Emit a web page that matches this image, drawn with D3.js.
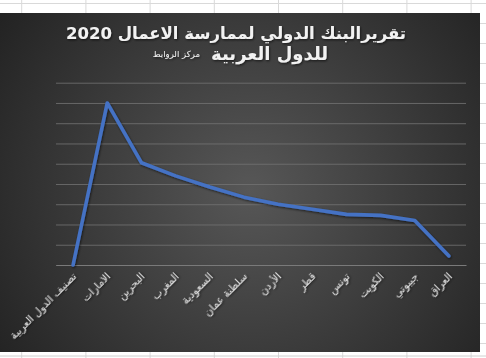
<!DOCTYPE html>
<html>
<head>
<meta charset="utf-8">
<script src="https://cdn.jsdelivr.net/npm/d3@7"></script>
<style>
  body { margin:0; background:#fff; }
  svg { display:block; }
</style>
</head>
<body>
<svg></svg>
<script>

// categories as in the sheet (first one is the header cell)
var countries = ["تصنيف الدول العربية","الامارات","البحرين","المغرب","السعودية","سلطنة عمان","الأردن","قطر","تونس","الكويت","جيبوتي","العراق"];
var values = [0,80,50.5,44,38.5,33.5,30,27.5,25,24.5,22,4.5];
var yTicks = [0,10,20,30,40,50,60,70,80,90];

var titleLine1 = "تقريرالبنك الدولي لممارسة الاعمال 2020";
var titleLine2 = "للدول العربية";
var titleSource = "مركز الروابط";

var screen = {
  width:486,
  height:358
};

var chartBox = {x:0, y:13, width:480, height:339};

var margins = {
  top:82.7,
  left:56
};

var plotWidth = 410;
var plotHeight = 265 - margins.top;

var svg = d3.select("svg").attr("width",screen.width).attr("height",screen.height);

// spreadsheet cells behind the chart
var sheet = svg.append("g").attr("id","sheet");
sheet.selectAll("line.v")
  .data(d3.range(8))
  .enter()
  .append("line")
  .attr("x1",function(d){return 21.7 + d*64.2;})
  .attr("x2",function(d){return 21.7 + d*64.2;})
  .attr("y1",0)
  .attr("y2",screen.height)
  .attr("stroke","#d9d9d9");
sheet.selectAll("line.h")
  .data(d3.range(18))
  .enter()
  .append("line")
  .attr("y1",function(d){return 3.5 + d*20;})
  .attr("y2",function(d){return 3.5 + d*20;})
  .attr("x1",0)
  .attr("x2",screen.width)
  .attr("stroke","#d9d9d9");
sheet.append("line")
  .attr("x1",0).attr("x2",screen.width)
  .attr("y1",356).attr("y2",356)
  .attr("stroke","#d0d0d0");

var defs = svg.append("defs");
var grad = defs.append("radialGradient")
  .attr("id","bg")
  .attr("gradientUnits","userSpaceOnUse")
  .attr("cx",250).attr("cy",190).attr("r",310);
grad.append("stop").attr("offset","0%").attr("stop-color","#575757");
grad.append("stop").attr("offset","100%").attr("stop-color","#222222");

var shadow = defs.append("filter").attr("id","shadow")
  .attr("x","-10%").attr("y","-10%").attr("width","120%").attr("height","130%");
shadow.append("feDropShadow")
  .attr("dx",0.8).attr("dy",1.2).attr("stdDeviation",0.8)
  .attr("flood-color","#000").attr("flood-opacity",0.6);

svg.append("rect")
  .attr("x",chartBox.x).attr("y",chartBox.y)
  .attr("width",chartBox.width).attr("height",chartBox.height)
  .attr("fill","url(#bg)");

// scales
var xScale = d3.scaleBand()
  .domain(countries)
  .range([0,plotWidth]);

var yScale = d3.scaleLinear()
  .domain([0,90])
  .range([plotHeight,0]);

var plot = svg.append("g").attr("id","plot")
  .attr("transform","translate("+margins.left+","+margins.top+")");

// gridlines
var yAxis = d3.axisLeft(yScale)
  .tickValues(yTicks)
  .tickSize(-plotWidth)
  .tickFormat("");

plot.append("g")
  .attr("id","yAxis")
  .call(yAxis)
  .call(function(g){ g.select(".domain").remove(); })
  .selectAll("line")
  .attr("stroke","#737373")
  .attr("stroke-width",0.8);

// category axis
var xAxis = d3.axisBottom(xScale).tickSize(0).tickPadding(0);

var xg = plot.append("g")
  .attr("id","xAxis")
  .attr("transform","translate(0,"+plotHeight+")")
  .call(xAxis);

xg.select(".domain").attr("stroke","#7a7a7a").attr("stroke-width",1);

xg.selectAll("text")
  .attr("fill","#e0e0e0")
  .attr("font-family","DejaVu Sans, sans-serif")
  .attr("font-size","10.5px")
  .attr("direction","rtl")
  .attr("text-anchor","start")
  .attr("dy",0)
  .attr("filter","url(#shadow)")
  .attr("transform","translate(4,12) rotate(-45)");

// the line
var line = d3.line()
  .x(function(d,i){ return xScale(countries[i]) + xScale.bandwidth()/2; })
  .y(function(d){ return yScale(d); });

plot.append("path")
  .datum(values)
  .attr("d",line)
  .attr("fill","none")
  .attr("stroke","#4472c4")
  .attr("stroke-width",3.6)
  .attr("stroke-linejoin","round")
  .attr("stroke-linecap","round")
  .attr("filter","url(#shadow)");

// title
var title = svg.append("g").attr("id","title")
  .attr("font-family","DejaVu Sans, sans-serif")
  .attr("fill","#f2f2f2")
  .attr("font-weight","bold")
  .attr("filter","url(#shadow)");

title.append("text")
  .attr("x",236).attr("y",39)
  .attr("text-anchor","middle")
  .attr("direction","rtl")
  .attr("font-size","16.5px")
  .text(titleLine1);

title.append("text")
  .attr("x",328).attr("y",60)
  .attr("text-anchor","start")
  .attr("direction","rtl")
  .attr("font-size","18px")
  .text(titleLine2);

title.append("text")
  .attr("x",200).attr("y",57)
  .attr("text-anchor","start")
  .attr("direction","rtl")
  .attr("font-size","8.5px")
  .attr("font-weight","normal")
  .text(titleSource);

</script>
</body>
</html>
